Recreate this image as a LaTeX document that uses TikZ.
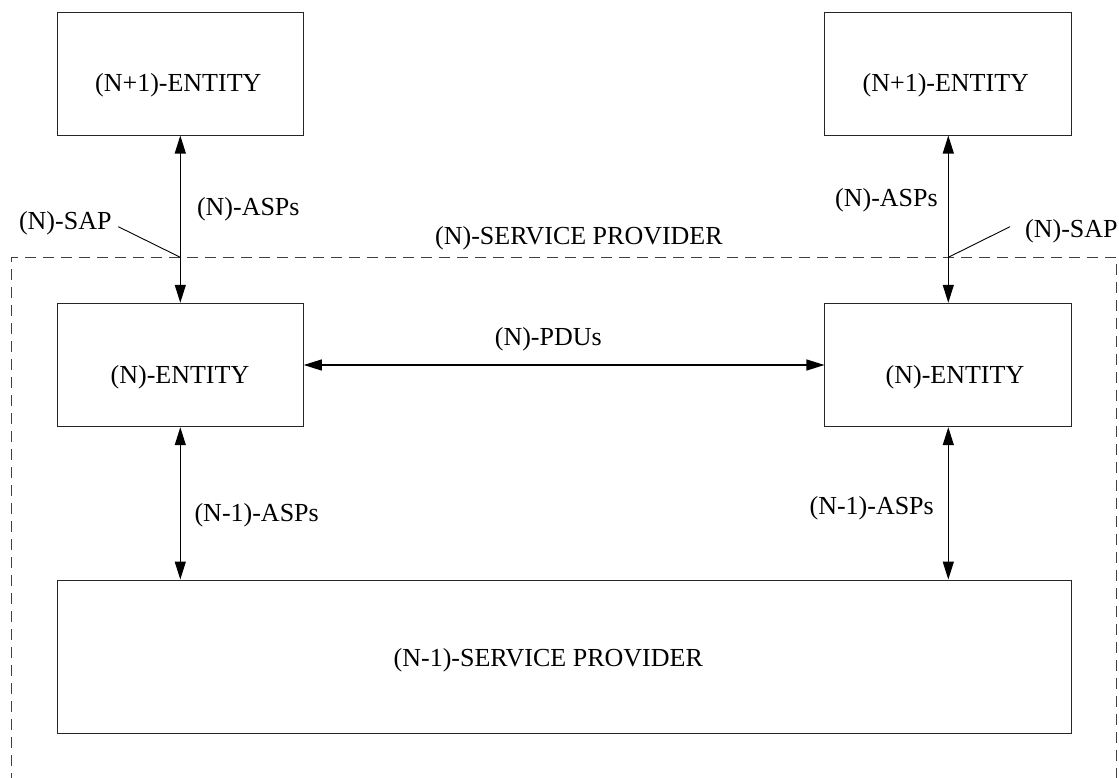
\documentclass[tikz,border=0pt]{standalone}
\usepackage{fontspec}
\setmainfont{Liberation Serif}
\usetikzlibrary{arrows.meta}
\tikzset{
  box/.style={draw=black!85, line width=1pt, inner sep=0pt, rectangle},
  txt/.style={anchor=base, inner sep=0pt, font=\fontsize{26}{31}\selectfont},
  conn/.style={line width=1.2pt, {Triangle[length=18pt,width=11pt]}-{Triangle[length=18pt,width=11pt]}},
  thin/.style={line width=0.9pt},
  dash box/.style={draw=black!75, line width=1pt, dash pattern=on 11pt off 7pt}
}
\begin{document}
\begin{tikzpicture}[x=1pt,y=-1pt]
\useasboundingbox (0,0) rectangle (1119,778);
\clip (0,0) rectangle (1119,778);
\fill[white] (0,0) rectangle (1119,778);
% dashed service provider boundary (bottom edge outside the picture)
\draw[dash box] (11.7,820) -- (11.7,257.3) -- (1116.7,257.3) -- (1116.7,820);
% boxes
\node[box, minimum width=246pt, minimum height=122.7pt] (n1L) at (180.3,73.7) {};
\node[box, minimum width=246.7pt, minimum height=122.7pt] (n1R) at (948.3,73.7) {};
\node[box, minimum width=246pt, minimum height=123.4pt] (nL) at (180.3,365) {};
\node[box, minimum width=246.7pt, minimum height=123.4pt] (nR) at (948.3,365) {};
\node[box, minimum width=1013.7pt, minimum height=153.3pt] (sp) at (564.2,656.7) {};
% box texts
\node[txt] (t1L) at (178.3,91.6) {(N+1)-ENTITY};
\node[txt] (t1R) at (945.8,91.6) {(N+1)-ENTITY};
\node[txt] (tL) at (180,383.6) {(N)-ENTITY};
\node[txt] (tR) at (955,383.6) {(N)-ENTITY};
\node[txt] (tsp) at (548.3,666.6) {(N-1)-SERVICE PROVIDER};
% labels
\node[txt] (lsp) at (579,244.6) {(N)-SERVICE PROVIDER};
\node[txt] (lpdu) at (548.3,345.3) {(N)-PDUs};
\node[txt] (laspL) at (248.3,215.3) {(N)-ASPs};
\node[txt] (laspR) at (886.5,206.9) {(N)-ASPs};
\node[txt, anchor=base east] (lsapL) at (111.7,229.4) {(N)-SAP};
\node[txt, anchor=base west] (lsapR) at (1025,237.6) {(N)-SAP};
\node[txt] (lasp1L) at (256.7,521.9) {(N-1)-ASPs};
\node[txt] (lasp1R) at (871.7,514.6) {(N-1)-ASPs};
% connectors
\draw[conn] (n1L.south) -- (nL.north);
\draw[conn] (n1R.south) -- (nR.north);
\draw[conn] (nL.east) -- (nR.west);
\draw[conn] (nL.south) -- (nL.south |- sp.north);
\draw[conn] (nR.south) -- (nR.south |- sp.north);
% SAP pointers
\coordinate (sapL) at (180.3,257.3);
\coordinate (sapR) at (948.3,257.3);
\coordinate (sapLs) at (118.3,226.7);
\coordinate (sapRs) at (1010,226.7);
\draw[thin] (sapLs) -- (sapL);
\draw[thin] (sapRs) -- (sapR);
\end{tikzpicture}
\end{document}
